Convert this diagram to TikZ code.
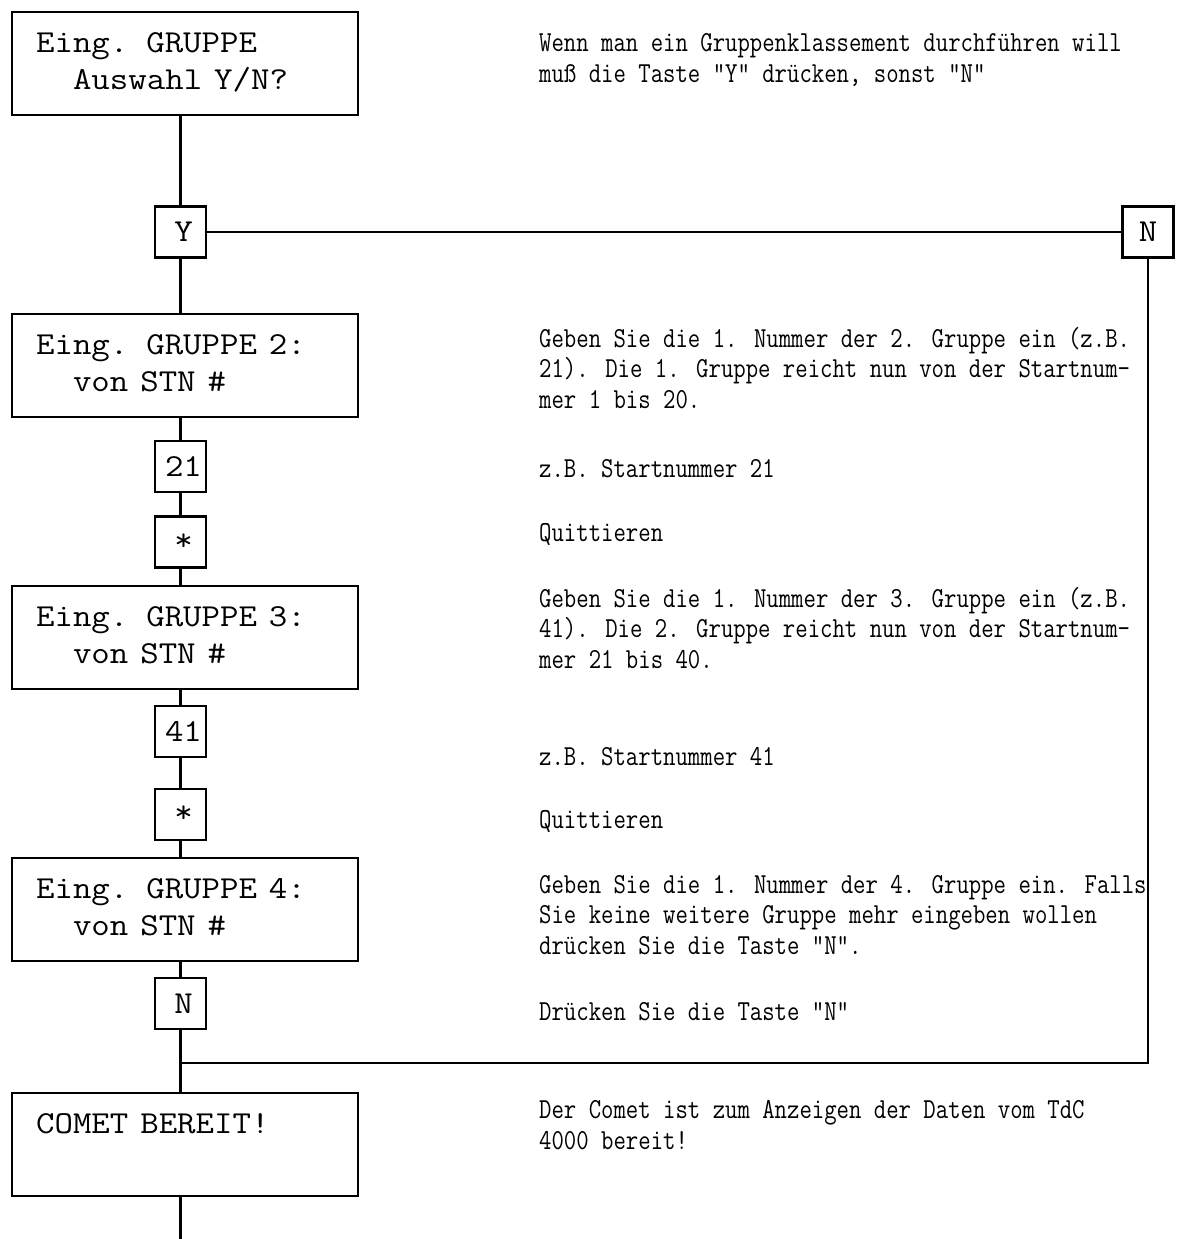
\documentclass[tikz,border=0pt]{standalone}
\usepackage{fontspec}
\usepackage{graphicx}
\newcommand{\boxfnt}{\ttfamily\fontsize{32}{37}\selectfont}
\newcommand{\descfnt}{\ttfamily\fontsize{29}{30.5}\selectfont}
\newcommand{\btxt}[1]{\raisebox{-3.5pt}{\scalebox{1.12}[1]{\begin{tabular}[c]{@{}l@{}}#1\end{tabular}}}}
\newcommand{\ktxt}[1]{\scalebox{1.12}[1]{#1}}
\newcommand{\dtxt}[1]{\scalebox{0.83}[1]{\begin{tabular}[b]{@{}l@{}}#1\end{tabular}}}
\begin{document}
\begin{tikzpicture}[x=1pt,y=-1pt,
  box/.style={draw, line width=2.2pt, minimum width=346pt, minimum height=103pt,
    anchor=north west, inner xsep=24pt, inner ysep=0pt, text width=298pt, align=left,
    font=\boxfnt},
  keybox/.style={draw, line width=2.2pt, minimum size=51pt, inner sep=0pt,
    font=\boxfnt},
  desc/.style={anchor=base west, inner sep=0pt, font=\descfnt},
  conn/.style={line width=2.2pt}]
\useasboundingbox (0,0) rectangle (1181,1239);

% main boxes
\node[box] (b1) at (11,11)   {\btxt{Eing. GRUPPE\\\phantom{xx}Auswahl Y/N?}};
\node[box] (b2) at (11,313)  {\btxt{Eing. GRUPPE 2:\\\phantom{xx}von STN \#}};
\node[box] (b3) at (11,585)  {\btxt{Eing. GRUPPE 3:\\\phantom{xx}von STN \#}};
\node[box] (b4) at (11,857)  {\btxt{Eing. GRUPPE 4:\\\phantom{xx}von STN \#}};
\node[box] (b5) at (11,1092) {\btxt{COMET BEREIT!\\\mbox{}}};

% key boxes
\node[keybox] (kY)  at (180.5,232)    {\ktxt{\,Y}};
\node[keybox] (k21) at (180.5,466.5)  {\ktxt{\,21}};
\node[keybox] (ks1) at (180.5,542)    {\ktxt{\,*}};
\node[keybox] (k41) at (180.5,731.5)  {\ktxt{\,41}};
\node[keybox] (ks2) at (180.5,814.5)  {\ktxt{\,*}};
\node[keybox] (kN)  at (180.5,1003.5) {\ktxt{\,N}};
\node[keybox] (kNr) at (1148,232)     {\ktxt{N}};

\coordinate (j) at (180.5,1063);
\coordinate (e) at (180.5,1239);

% connectors
\draw[conn] (b1.south -| kY) -- (kY.north);
\draw[conn] (kY.south) -- (b2.north -| kY);
\draw[conn] (b2.south -| kY) -- (k21.north);
\draw[conn] (k21.south) -- (ks1.north);
\draw[conn] (ks1.south) -- (b3.north -| kY);
\draw[conn] (b3.south -| kY) -- (k41.north);
\draw[conn] (k41.south) -- (ks2.north);
\draw[conn] (ks2.south) -- (b4.north -| kY);
\draw[conn] (b4.south -| kY) -- (kN.north);
\draw[conn] (kN.south) -- (b5.north -| kY);
\draw[conn] (kY.east) -- (kNr.west);
\draw[conn] (kNr.south) |- (j);
\draw[conn] (b5.south -| kY) -- (e);

% descriptions (anchor = baseline of the last line)
\node[desc] (d1) at (539,82)   {\dtxt{Wenn man ein Gruppenklassement durchführen will\\muß die Taste "Y" drücken, sonst "N"}};
\node[desc] (d2) at (539,408)  {\dtxt{Geben Sie die 1. Nummer der 2. Gruppe ein (z.B.\\21). Die 1. Gruppe reicht nun von der Startnum-\\mer 1 bis 20.}};
\node[desc] (d3) at (539,477)  {\dtxt{z.B. Startnummer 21}};
\node[desc] (d4) at (539,541)  {\dtxt{Quittieren}};
\node[desc] (d5) at (539,668)  {\dtxt{Geben Sie die 1. Nummer der 3. Gruppe ein (z.B.\\41). Die 2. Gruppe reicht nun von der Startnum-\\mer 21 bis 40.}};
\node[desc] (d6) at (539,765)  {\dtxt{z.B. Startnummer 41}};
\node[desc] (d7) at (539,828)  {\dtxt{Quittieren}};
\node[desc] (d8) at (539,954)  {\dtxt{Geben Sie die 1. Nummer der 4. Gruppe ein. Falls\\Sie keine weitere Gruppe mehr eingeben wollen\\drücken Sie die Taste "N".}};
\node[desc] (d9) at (539,1020) {\dtxt{Drücken Sie die Taste "N"}};
\node[desc] (d10) at (539,1149) {\dtxt{Der Comet ist zum Anzeigen der Daten vom TdC\\4000 bereit!}};
\end{tikzpicture}
\end{document}
